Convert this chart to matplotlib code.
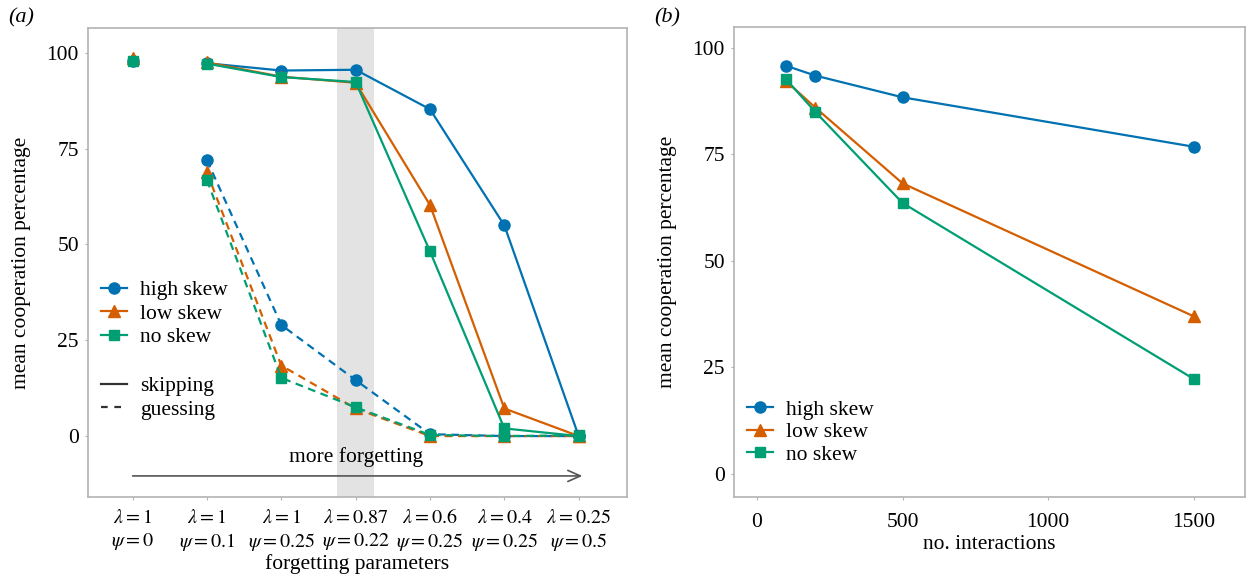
import numpy as np
import matplotlib.pyplot as plt
from matplotlib.lines import Line2D

plt.rcParams['font.family'] = ['Liberation Serif', 'DejaVu Serif']
plt.rcParams['mathtext.fontset'] = 'stix'

# panel (a) data
paramLabels = [r'$\lambda = 1$' + '\n' + r'$\psi = 0$',
               r'$\lambda = 1$' + '\n' + r'$\psi = 0.1$',
               r'$\lambda = 1$' + '\n' + r'$\psi = 0.25$',
               r'$\lambda = 0.87$' + '\n' + r'$\psi = 0.22$',
               r'$\lambda = 0.6$' + '\n' + r'$\psi = 0.25$',
               r'$\lambda = 0.4$' + '\n' + r'$\psi = 0.25$',
               r'$\lambda = 0.25$' + '\n' + r'$\psi = 0.5$']
baseHigh, baseLow, baseNo = 98.0, 98.6, 97.8
skipHigh = [97.3, 95.4, 95.6, 85.3, 55.0, 0.0]
skipLow = [97.5, 93.8, 92.2, 60.3, 7.2, 0.0]
skipNo = [97.2, 93.7, 92.4, 48.2, 2.0, 0.0]
guessHigh = [72.0, 29.0, 14.6, 0.5, 0.0, 0.0]
guessLow = [68.8, 18.4, 7.2, 0.0, 0.0, 0.0]
guessNo = [66.8, 15.2, 7.5, 0.3, 0.0, 0.2]

# panel (b) data
interactions = [100, 200, 500, 1500]
intHigh = [95.8, 93.5, 88.4, 76.8]
intLow = [92.2, 86.0, 68.2, 37.0]
intNo = [92.6, 85.0, 63.6, 22.3]

blue, orange, green = '#0072B2', '#D55E00', '#009E73'
frameCol = '#b3b3b3'
fs = 15.5

fig = plt.figure(figsize=(12.46, 5.82), dpi=100)
axA = fig.add_axes([88/1246, 1-497/582, (627-88)/1246, (497-28)/582])
axB = fig.add_axes([734/1246, 1-497/582, (1245-734)/1246, (497-27)/582])

def styleAxis(ax, xpad):
    for s in ax.spines.values():
        s.set_color(frameCol)
        s.set_linewidth(1.2)
    ax.tick_params(colors=frameCol, labelcolor='black', length=2.5, width=0.8,
                   labelsize=fs, pad=4)
    ax.tick_params(axis='x', pad=xpad)

# ---- panel (a)
ax = axA
idx = np.arange(1, 7)
ax.axvspan(2.75, 3.25, color='#e3e3e3', zorder=0, lw=0)
series = [(skipHigh, guessHigh, baseHigh, blue, 'o'),
          (skipLow, guessLow, baseLow, orange, '^'),
          (skipNo, guessNo, baseNo, green, 's')]
ms = {'o': 8, '^': 8.5, 's': 7.5}
for skip, guess, base, col, mk in series:
    ax.plot(idx, guess, color=col, lw=1.6, ls=(0, (3.5, 2.5)), marker=mk,
            ms=ms[mk], zorder=3)
    ax.plot(idx, skip, color=col, lw=1.6, marker=mk, ms=ms[mk], zorder=4)
    ax.plot([0], [base], color=col, marker=mk, ms=ms[mk], ls='none', zorder=4)

ax.annotate('', xy=(6.05, -10.4), xytext=(0, -10.4),
            arrowprops=dict(arrowstyle='->, head_length=0.9, head_width=0.4',
                            color='#555555', lw=1.2, shrinkA=0, shrinkB=0))
ax.text(3, -5.5, 'more forgetting', ha='center', va='center', fontsize=fs)

ax.set_xlim(-0.6, 6.65)
ax.set_ylim(-15.9, 106.5)
ax.set_xticks(range(7))
ax.set_xticklabels(paramLabels, linespacing=1.2)
ax.set_yticks([0, 25, 50, 75, 100])
ax.set_xlabel('forgetting parameters', fontsize=fs, labelpad=1)
ax.set_ylabel('mean cooperation percentage', fontsize=fs, labelpad=11)
styleAxis(ax, 6)
ax.tick_params(axis='x', labelsize=14.5)

skewHandles = [Line2D([], [], color=blue, marker='o', ms=8, lw=1.6),
               Line2D([], [], color=orange, marker='^', ms=8.5, lw=1.6),
               Line2D([], [], color=green, marker='s', ms=7.5, lw=1.6)]
skewNames = ['high skew', 'low skew', 'no skew']
leg1 = ax.legend(skewHandles, skewNames, loc='upper left',
                 bbox_to_anchor=(0.0, 0.49), frameon=False, fontsize=fs,
                 handlelength=1.2, handletextpad=0.6, labelspacing=0.16,
                 borderaxespad=0.2)
ax.add_artist(leg1)
typeHandles = [Line2D([], [], color='#333333', lw=1.6),
               Line2D([], [], color='#333333', lw=1.6, ls=(0, (3, 3)))]
ax.legend(typeHandles, ['skipping', 'guessing'], loc='upper left',
          bbox_to_anchor=(0.0, 0.285), frameon=False, fontsize=fs,
          handlelength=1.2, handletextpad=0.6, labelspacing=0.16,
          borderaxespad=0.2)

fig.text(8/1246, 1-18/582, '(a)', fontsize=16, style='italic', va='center')

# ---- panel (b)
ax = axB
ax.plot(interactions, intHigh, color=blue, lw=1.6, marker='o', ms=8,
        label='high skew')
ax.plot(interactions, intLow, color=orange, lw=1.6, marker='^', ms=8.5,
        label='low skew')
ax.plot(interactions, intNo, color=green, lw=1.6, marker='s', ms=7.5,
        label='no skew')
ax.set_xlim(-79, 1676)
ax.set_ylim(-5.4, 104.9)
ax.set_xticks([0, 500, 1000, 1500])
ax.set_yticks([0, 25, 50, 75, 100])
ax.set_xlabel('no. interactions', fontsize=fs, labelpad=2)
ax.set_ylabel('mean cooperation percentage', fontsize=fs, labelpad=11)
styleAxis(ax, 9)
ax.legend(loc='upper left', bbox_to_anchor=(0.0, 0.235), frameon=False,
          fontsize=fs, handlelength=1.2, handletextpad=0.6,
          labelspacing=0.12, borderaxespad=0.2)

fig.text(654/1246, 1-18/582, '(b)', fontsize=16, style='italic', va='center')

fig.savefig('out.png', dpi=100)
